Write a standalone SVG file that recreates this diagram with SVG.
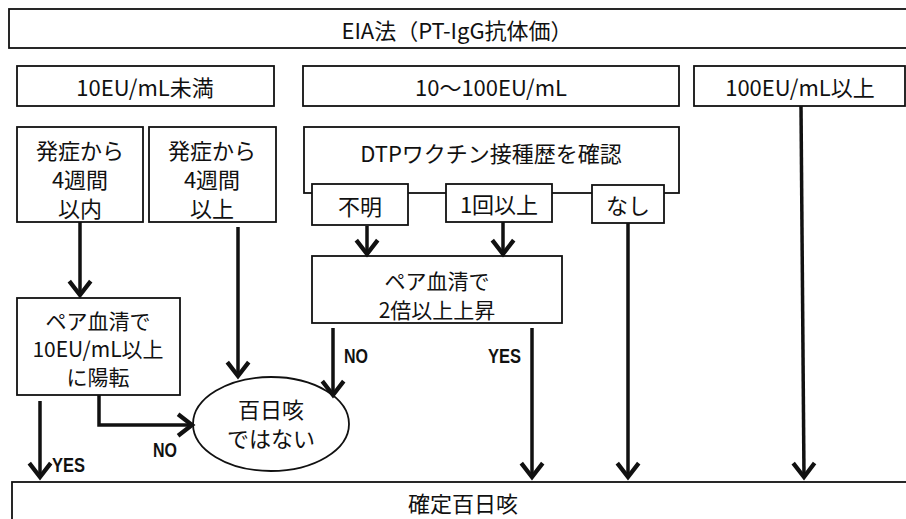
<svg xmlns="http://www.w3.org/2000/svg" width="906" height="519" viewBox="0 0 906 519">
<defs>
<style>
.box{fill:#fff;stroke:#111;stroke-width:1.8}
.t{font-family:"Noto Sans CJK JP","Noto Sans",sans-serif;font-size:22px;fill:#111;text-anchor:middle;dominant-baseline:central}
.s{font-size:21px}
.lbl{font-family:"Liberation Sans","Noto Sans",sans-serif;font-size:21px;font-weight:bold;fill:#111}
.c{fill:none;stroke:#111;stroke-width:3.5;marker-end:url(#ah)}
</style>
<marker id="ah" markerUnits="userSpaceOnUse" orient="auto" refX="0" refY="0" markerWidth="30" markerHeight="30" viewBox="-16 -14 20 28" overflow="visible">
<path d="M -13 -10 L 0 0 L -13 10" fill="none" stroke="#111" stroke-width="4"/>
</marker>
</defs>
<rect width="906" height="519" fill="#fff"/>

<g id="eia">
<rect class="box" x="9" y="9" width="900" height="39"/>
<text class="t" x="457" y="29">EIA法（PT-IgG抗体価）</text>
</g>

<g id="lt10">
<rect class="box" x="17" y="66" width="257" height="40"/>
<text class="t" x="145" y="86">10EU/mL未満</text>
</g>

<g id="mid">
<rect class="box" x="303" y="66" width="376" height="40"/>
<text class="t" x="491" y="86">10～100EU/mL</text>
</g>

<g id="gt100">
<rect class="box" x="694" y="66" width="211" height="40"/>
<text class="t" x="800" y="86">100EU/mL以上</text>
</g>

<g id="within4">
<rect class="box" x="17" y="127" width="126" height="95"/>
<text class="t" x="80" y="149">発症から</text>
<text class="t" x="80" y="178">4週間</text>
<text class="t" x="80" y="207">以内</text>
</g>

<g id="over4">
<rect class="box" x="149" y="127" width="127" height="95"/>
<text class="t" x="212" y="149">発症から</text>
<text class="t" x="212" y="178">4週間</text>
<text class="t" x="212" y="207">以上</text>
</g>

<g id="dtp">
<rect class="box" x="304" y="127" width="375" height="66"/>
<text class="t" x="491" y="152">DTPワクチン接種歴を確認</text>
</g>

<g id="unknown">
<rect class="box" x="312" y="184" width="96" height="41"/>
<text class="t" x="360" y="205">不明</text>
</g>

<g id="once">
<rect class="box" x="446" y="184" width="106" height="38"/>
<text class="t" x="499" y="203">1回以上</text>
</g>

<g id="none">
<rect class="box" x="592" y="185" width="72" height="38"/>
<text class="t" x="628" y="204">なし</text>
</g>

<g id="pair2">
<rect class="box" x="312" y="256" width="250" height="67"/>
<text class="t s" x="437" y="280">ペア血清で</text>
<text class="t s" x="437" y="309">2倍以上上昇</text>
</g>

<g id="pair10">
<rect class="box" x="17" y="298" width="163" height="97"/>
<text class="t s" x="98" y="320">ペア血清で</text>
<text class="t s" x="98" y="348">10EU/mL以上</text>
<text class="t s" x="98" y="376">に陽転</text>
</g>

<g id="notpert">
<ellipse class="box" cx="271" cy="424" rx="78" ry="47"/>
<text class="t" x="271" y="408">百日咳</text>
<text class="t" x="271" y="437">ではない</text>
</g>

<g id="confirmed">
<rect class="box" x="12" y="482" width="897" height="50"/>
<text class="t" x="463" y="502">確定百日咳</text>
</g>

<g id="connectors">
<path class="c" d="M 80 222 V 295"/>
<path class="c" d="M 238 227 V 376"/>
<path class="c" d="M 367 226 V 254"/>
<path class="c" d="M 503 222 V 254"/>
<path class="c" d="M 333 328 V 395"/>
<path class="c" d="M 532 328 V 477"/>
<path class="c" d="M 628 223 V 477"/>
<path class="c" d="M 801 106 L 804 477"/>
<path class="c" d="M 40 401 V 477"/>
<path class="c" d="M 99 395 V 425 H 192"/>
<text class="lbl" x="52" y="472" textLength="33" lengthAdjust="spacingAndGlyphs">YES</text>
<text class="lbl" x="153" y="457" textLength="24" lengthAdjust="spacingAndGlyphs">NO</text>
<text class="lbl" x="344" y="363" textLength="24" lengthAdjust="spacingAndGlyphs">NO</text>
<text class="lbl" x="488" y="363" textLength="33" lengthAdjust="spacingAndGlyphs">YES</text>
</g>
</svg>
